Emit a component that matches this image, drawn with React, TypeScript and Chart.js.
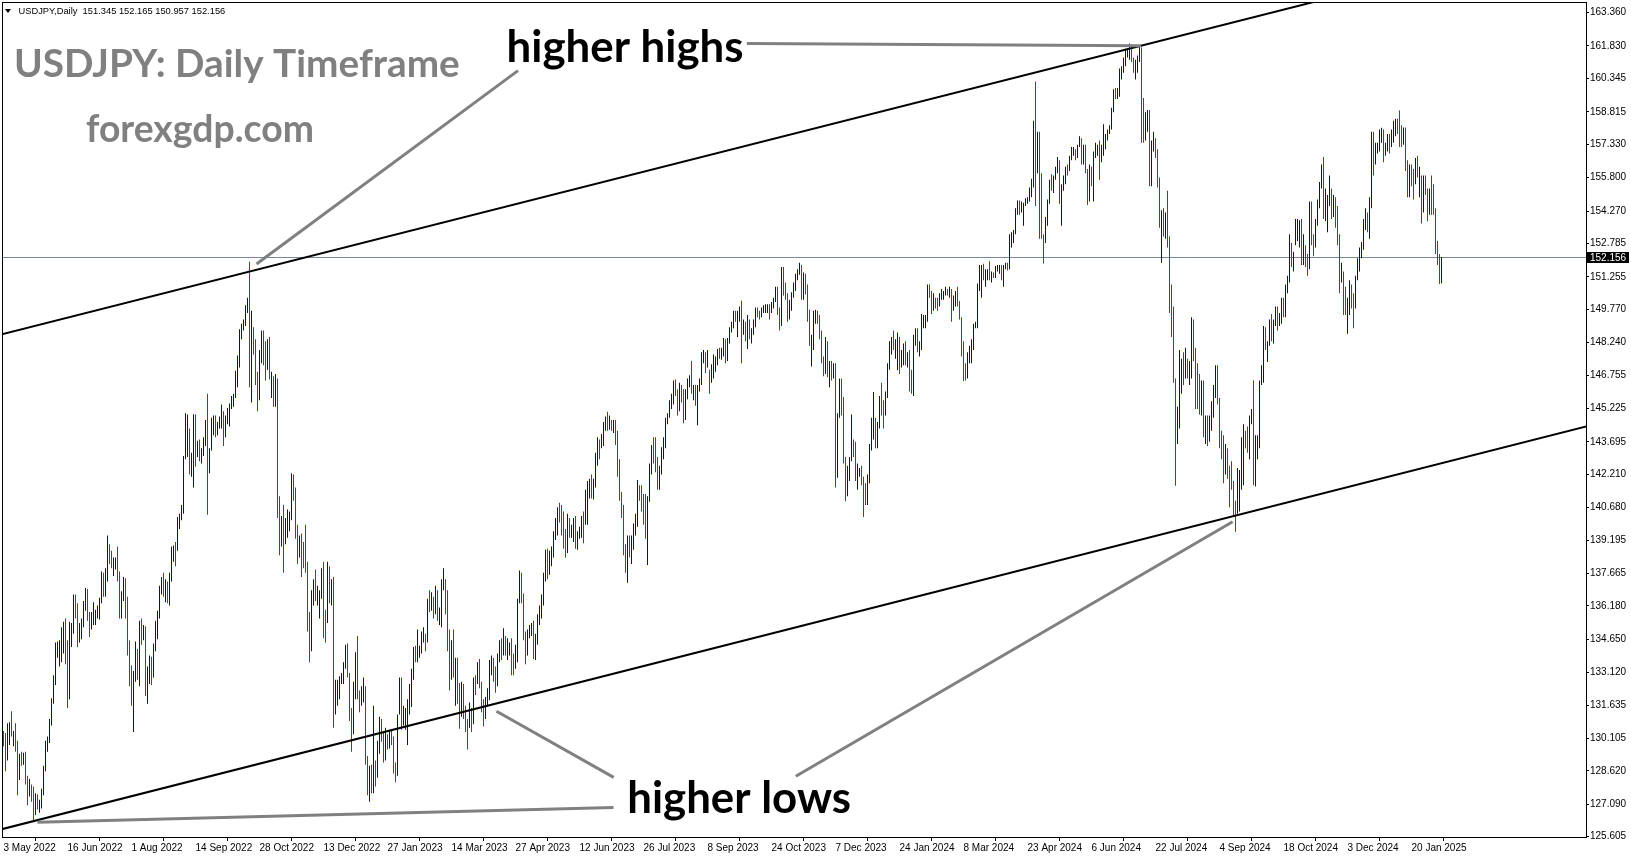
import React, { useEffect, useRef } from 'react';
import { Chart, registerables } from 'chart.js';

Chart.register(...registerables);

// ---------------- time axis ----------------
const DATE_LABELS = [
  '3 May 2022', '16 Jun 2022', '1 Aug 2022', '14 Sep 2022', '28 Oct 2022', '13 Dec 2022',
  '27 Jan 2023', '14 Mar 2023', '27 Apr 2023', '12 Jun 2023', '26 Jul 2023', '8 Sep 2023',
  '24 Oct 2023', '7 Dec 2023', '24 Jan 2024', '8 Mar 2024', '23 Apr 2024', '6 Jun 2024',
  '22 Jul 2024', '4 Sep 2024', '18 Oct 2024', '3 Dec 2024', '20 Jan 2025',
];
const BARS_PER_LABEL = 32;

// ---------------- price axis ----------------
const PRICE_TICKS = [
  163.36, 161.83, 160.345, 158.815, 157.33, 155.8, 154.27, 152.785, 151.255, 149.77,
  148.24, 146.755, 145.225, 143.695, 142.21, 140.68, 139.195, 137.665, 136.18, 134.65,
  133.12, 131.635, 130.105, 128.62, 127.09, 125.605,
];

// ---------------- daily bars (one row = 32 bars between two date labels) ----------------
const PREV_CLOSE = 130.15;
const HIGH = [
  130.45,130.35,130.8,130.85,131.35,130.45,130.8,130.0,129.4,129.5,129.45,129.5,128.4,128.25,128.0,127.9,127.6,127.55,127.3,127.8,128.85,130.0,130.2,131.0,131.95,133.0,134.5,134.55,134.6,135.2,135.45,135.6,
  134.6,135.45,135.4,136.7,136.7,136.3,135.4,135.6,136.4,137.0,136.95,135.9,135.9,136.35,136.0,136.2,136.55,137.75,137.7,137.9,139.4,139.0,138.7,138.4,138.4,138.9,137.75,136.85,137.5,137.45,136.6,134.6,
  133.45,133.2,134.55,134.2,135.5,135.6,135.3,135.25,133.4,133.9,133.85,134.45,135.5,135.95,137.1,137.5,137.7,137.4,137.3,137.7,138.9,138.95,139.1,140.25,140.4,140.8,143.05,145.0,144.95,144.3,143.2,144.96,
  144.95,143.75,143.8,143.4,143.9,144.7,145.9,143.4,144.8,144.9,144.9,144.6,144.85,145.4,145.1,144.9,145.25,145.45,145.8,145.9,146.95,147.65,148.85,149.1,149.3,149.95,150.3,151.94,149.7,148.95,148.4,146.9,
  147.9,148.8,148.8,148.3,148.4,148.5,146.9,146.7,146.8,146.6,141.2,140.3,140.8,140.2,140.6,140.5,142.25,142.2,141.6,139.9,139.4,139.5,139.1,139.9,138.2,135.9,136.9,137.4,137.85,137.1,136.9,137.9,
  138.2,136.0,138.2,138.0,137.4,137.5,132.8,132.8,132.95,133.1,133.6,134.4,134.45,133.1,131.5,132.7,134.05,134.8,132.3,132.5,132.9,132.5,129.3,128.85,128.9,131.6,129.1,130.0,131.1,131.0,130.4,130.6,
  130.3,130.5,130.5,130.2,129.0,131.2,132.9,132.9,131.6,131.5,131.9,132.6,133.3,134.3,134.35,135.1,134.35,135.0,135.2,134.9,136.5,136.9,136.8,136.6,137.1,136.9,136.1,137.4,137.9,137.4,136.9,135.1,
  134.6,135.1,133.8,133.8,132.65,132.7,132.6,131.6,131.0,131.75,131.5,132.9,133.0,133.6,133.75,132.7,131.9,132.0,132.4,133.7,133.9,133.8,133.4,134.0,134.6,134.7,135.15,134.8,134.7,134.5,134.7,134.0,
  134.4,136.5,137.8,137.7,136.75,135.0,135.1,135.3,135.4,135.5,134.9,135.8,136.2,136.7,137.7,138.75,138.8,138.7,138.9,139.6,140.2,140.7,140.9,140.8,140.5,139.7,140.4,140.2,139.9,140.2,140.3,139.6,
  139.8,140.3,140.5,141.5,141.9,142.0,142.2,142.0,143.2,143.9,143.8,144.05,144.6,144.85,145.07,144.9,144.7,144.7,144.7,144.2,142.9,141.4,140.8,139.0,139.4,139.4,139.4,139.95,140.4,141.95,141.7,141.7,
  141.3,141.3,141.2,142.7,143.55,143.9,143.9,143.0,142.6,143.45,143.9,144.8,145.0,145.6,145.9,146.5,146.55,146.1,146.4,146.3,146.1,146.1,146.6,146.75,147.4,146.3,146.3,146.3,146.6,147.8,147.9,147.8,
  147.9,147.0,147.25,147.7,147.6,147.95,148.0,148.0,148.45,148.4,148.45,148.95,149.2,149.7,149.7,149.7,149.9,150.16,149.3,149.2,149.5,149.3,148.9,149.3,149.85,149.85,149.7,149.85,149.95,150.0,150.0,150.0,
  150.1,150.3,150.8,150.8,149.85,151.7,151.7,151.0,150.5,150.2,150.55,151.0,151.4,151.6,151.9,151.8,151.45,151.4,150.9,149.75,148.6,149.7,149.75,149.7,149.5,148.8,147.6,148.5,148.3,147.4,147.4,147.3,
  147.3,145.0,146.6,146.6,145.75,143.0,142.6,143.0,144.95,143.8,143.7,142.7,142.5,142.6,142.1,141.8,142.2,143.6,144.8,145.98,144.8,144.6,145.8,146.4,145.6,146.0,147.3,148.3,148.5,148.8,148.4,148.7,
  148.5,147.9,148.2,148.3,147.8,147.9,147.0,148.6,148.9,148.9,148.3,149.55,149.5,149.5,150.9,150.9,150.6,150.5,150.3,150.3,150.5,150.7,150.6,150.8,150.7,150.8,150.7,150.4,150.6,150.8,150.15,149.4,
  148.3,147.3,147.8,148.1,148.4,149.1,149.2,150.95,151.8,151.8,151.85,151.6,151.6,151.97,151.5,151.45,151.75,151.8,151.8,151.8,151.8,151.9,151.9,153.2,153.3,153.4,154.4,154.75,154.75,154.7,154.65,154.85,
  154.9,155.35,155.75,158.4,160.2,157.9,157.9,156.0,153.2,154.0,154.8,155.7,155.95,155.9,156.3,156.75,156.6,155.5,155.9,156.3,156.4,156.8,157.2,157.2,157.1,157.3,157.7,157.6,157.3,157.3,156.2,156.4,
  156.3,157.0,157.4,157.3,157.5,157.3,158.25,157.8,158.0,158.2,159.0,159.85,159.9,159.9,160.8,160.9,161.3,161.7,161.7,161.95,161.8,161.3,161.2,161.4,161.8,161.76,159.45,158.8,158.9,158.9,157.5,157.9,
  157.6,157.1,155.8,154.3,154.4,154.2,155.2,153.1,150.9,149.9,146.6,145.3,147.9,147.5,147.8,148.0,147.5,147.4,149.4,149.3,148.0,147.3,146.8,146.5,146.5,144.9,144.9,144.9,145.55,146.3,147.2,147.2,
  145.7,144.2,144.0,143.6,143.4,142.6,142.8,141.9,141.0,142.5,142.4,143.9,144.5,144.2,144.4,144.9,145.2,146.5,144.0,144.0,146.5,147.2,149.0,148.95,148.3,149.3,149.55,149.3,149.9,149.9,149.6,150.3,
  150.3,150.9,151.3,153.2,152.8,152.4,153.9,153.9,153.85,153.9,153.2,152.7,152.3,154.7,154.7,153.2,153.9,154.8,155.6,156.4,156.75,155.3,155.0,155.9,155.3,155.0,154.9,154.5,153.2,151.9,151.5,150.8,
  150.3,151.1,150.9,150.5,151.3,152.1,152.6,152.85,153.9,154.4,154.2,154.9,157.9,157.9,157.4,157.4,158.0,158.08,158.0,157.4,157.8,157.8,158.0,158.4,158.5,158.5,158.87,158.2,158.1,158.1,156.6,156.4,
  156.4,156.2,156.7,156.8,156.3,155.9,155.9,155.9,155.3,155.3,155.9,155.5,154.4,152.9,152.3,152.165,
];
const LOW = [
  129.75,128.6,129.1,129.8,130.2,129.75,129.5,127.5,128.2,128.85,128.9,128.0,127.05,127.45,127.2,126.36,126.6,126.85,126.7,126.9,127.5,128.6,129.5,129.9,130.7,131.7,132.55,133.8,133.4,133.6,134.0,133.5,
  131.5,131.9,134.3,134.9,135.6,134.3,134.5,134.65,135.2,135.95,135.5,134.75,135.1,135.3,135.3,135.6,135.55,136.3,136.6,136.6,137.3,138.1,137.9,137.55,137.85,137.3,135.6,135.6,136.4,135.6,133.9,132.5,
  131.6,130.4,132.7,132.8,132.5,134.4,134.6,132.05,131.7,132.6,132.55,132.9,134.1,134.65,135.6,136.7,136.6,136.35,136.3,136.2,137.3,138.2,138.0,138.7,139.7,140.1,140.4,142.9,143.0,142.2,142.1,141.6,
  142.55,143.0,142.8,142.7,143.05,143.5,140.35,142.25,143.3,144.0,143.9,144.0,144.3,144.3,143.5,143.9,144.5,144.4,145.2,145.3,145.7,146.2,147.1,148.4,148.8,149.0,149.6,146.2,145.5,147.7,146.3,145.1,
  145.6,147.3,147.2,146.5,147.0,146.55,145.7,145.3,145.3,140.2,138.5,138.9,137.7,139.0,139.3,139.6,140.1,141.0,139.25,138.1,138.4,137.5,137.9,137.7,135.0,133.6,134.1,136.2,136.4,136.2,135.6,136.5,
  134.7,134.5,135.4,136.3,136.2,130.6,131.2,131.6,131.9,132.6,132.6,133.3,132.9,130.9,129.5,130.3,131.9,131.9,131.3,131.6,131.75,128.9,127.5,127.2,127.6,127.6,127.9,128.3,129.4,129.95,129.0,129.1,
  129.6,129.65,129.8,128.5,128.1,128.4,131.2,130.5,130.7,130.5,129.8,131.2,131.55,132.8,133.6,133.6,133.8,134.0,134.5,134.1,134.5,135.9,135.95,135.6,135.8,135.5,135.3,135.2,136.9,135.8,134.1,132.3,
  132.8,132.9,131.6,131.7,130.55,131.1,131.0,130.4,129.6,130.6,130.4,130.75,132.1,132.6,132.4,131.3,130.65,131.0,131.6,131.85,133.0,132.7,132.2,132.5,133.6,133.7,133.9,133.9,133.7,133.9,133.0,133.0,
  133.3,133.6,136.3,136.3,134.6,133.5,133.9,134.7,134.8,133.75,133.7,134.4,135.3,135.6,136.2,137.3,137.4,137.6,138.0,138.4,139.2,139.4,140.0,139.4,138.8,138.4,138.6,139.3,139.3,139.1,138.8,138.75,
  139.25,139.3,139.05,139.9,139.9,141.1,141.1,141.05,141.6,142.6,142.9,143.4,143.5,144.2,144.2,144.25,144.2,144.1,143.55,142.1,141.0,140.2,138.5,137.7,137.24,138.4,138.1,138.75,139.4,139.8,141.0,140.5,
  139.9,139.25,138.05,140.95,142.2,142.7,142.3,141.5,141.5,142.2,142.9,143.4,144.5,144.8,145.2,145.4,145.8,144.9,145.1,145.5,144.55,144.7,145.65,146.2,145.9,145.6,145.35,144.45,146.0,146.3,147.3,146.85,
  147.1,145.9,146.4,146.6,146.9,147.2,147.5,147.45,147.6,147.3,147.4,148.2,148.7,148.9,149.2,148.5,149.2,147.3,148.6,148.3,147.95,148.4,148.2,148.6,148.95,149.4,149.3,149.4,149.6,149.6,149.6,149.3,
  149.6,149.8,150.1,149.5,148.8,149.0,150.4,150.2,149.2,149.3,149.7,150.3,150.6,151.1,151.35,150.2,150.2,150.45,149.2,148.1,147.15,147.9,149.1,149.1,148.4,147.3,146.7,146.8,146.65,146.2,146.5,146.6,
  141.6,142.05,144.8,144.9,142.7,140.97,141.2,141.9,142.8,143.0,141.9,141.5,142.1,141.7,140.25,140.8,140.8,141.8,143.3,143.8,143.4,143.4,144.3,144.9,144.3,144.9,145.7,147.0,147.7,147.9,147.5,146.98,
  146.8,147.1,147.2,147.2,147.1,146.0,145.9,145.8,148.1,147.8,147.6,147.9,148.9,148.9,149.2,150.3,149.55,149.7,149.8,149.7,149.9,150.2,150.2,150.4,150.4,150.3,149.2,149.7,149.9,149.9,149.3,147.6,
  146.48,146.5,146.6,147.3,147.3,147.9,148.9,148.9,150.6,150.3,151.1,150.8,151.1,151.1,151.0,151.2,151.2,151.5,151.4,151.1,150.8,151.6,151.55,151.6,152.6,152.8,153.2,154.1,154.1,154.2,153.6,154.5,
  154.6,154.7,154.9,155.35,154.5,156.0,153.0,153.0,151.86,152.8,153.6,154.6,155.2,155.1,155.7,156.0,154.6,153.6,155.2,155.5,155.9,156.1,156.6,156.8,156.6,156.7,157.2,156.4,156.4,156.0,154.55,154.7,
  155.4,154.7,156.7,156.8,155.7,156.5,156.8,157.1,157.5,157.8,158.0,158.8,159.4,159.4,159.5,160.3,160.6,160.9,161.3,161.2,161.1,160.6,160.3,160.6,161.1,157.4,157.4,157.5,157.9,155.4,155.4,157.0,
  156.7,155.35,153.5,151.9,153.1,153.0,152.6,149.6,148.5,146.4,141.68,143.6,144.3,145.9,146.3,146.6,146.6,146.3,146.6,147.4,145.2,145.2,144.95,144.9,143.9,143.6,143.5,143.7,144.2,144.8,145.7,145.4,
  143.4,142.9,141.8,142.2,142.0,140.7,141.5,140.3,139.58,140.4,140.5,141.5,141.7,143.4,143.2,142.9,144.5,141.7,141.65,142.9,143.4,146.3,146.4,147.9,147.35,148.1,148.3,148.2,149.0,148.8,149.0,149.1,
  149.4,149.4,150.5,151.0,151.7,151.5,152.7,152.9,152.6,151.8,151.8,151.7,151.3,151.6,152.7,152.2,152.6,153.6,154.4,155.3,153.9,153.8,153.3,154.5,153.9,154.0,153.5,152.7,150.5,151.0,149.5,149.5,
  148.65,149.5,149.8,148.9,149.8,151.1,151.5,152.1,152.5,153.4,153.3,153.0,154.4,155.9,156.4,156.9,157.0,157.4,156.5,156.8,157.0,156.9,157.2,157.4,157.7,157.8,157.2,157.2,157.3,156.1,154.9,154.9,
  155.4,154.8,155.5,155.8,154.9,153.7,154.2,155.0,153.8,154.1,154.1,154.1,152.3,151.8,150.93,150.957,
];
const CLOSE = [
  130.1,129.1,130.2,130.55,130.3,130.4,129.95,128.3,129.2,129.15,129.35,128.2,127.8,127.9,127.8,126.85,127.3,127.1,127.1,127.6,128.7,129.85,129.9,130.85,131.9,132.6,134.2,134.35,134.4,134.4,135.4,133.9,
  132.2,134.95,135.05,136.65,136.2,134.95,135.2,135.45,136.1,136.6,135.7,135.2,135.7,135.9,135.9,136.0,136.1,137.4,136.8,137.4,138.9,138.5,138.2,138.2,138.2,137.4,136.1,136.7,136.9,136.6,134.2,133.3,
  131.6,133.2,133.85,133.0,135.0,134.95,135.1,132.9,133.0,133.5,133.3,134.2,135.0,135.9,137.0,137.5,136.8,137.1,136.5,137.2,138.75,138.75,138.7,139.7,140.2,140.5,142.8,144.0,144.1,142.6,142.8,144.6,
  143.2,143.5,142.9,143.2,143.7,144.1,142.4,143.3,144.7,144.8,144.1,144.5,144.7,144.8,144.1,144.6,145.1,145.3,145.7,145.8,146.9,147.2,148.7,149.0,149.2,149.9,150.2,147.6,148.9,148.0,146.4,146.3,
  147.5,148.7,148.2,147.9,148.2,146.6,146.6,145.6,146.4,140.9,138.8,139.9,139.3,139.5,140.2,140.4,142.1,141.2,139.6,138.6,139.2,138.9,138.7,138.1,135.3,134.3,136.7,137.1,136.6,136.6,136.6,137.7,
  135.6,135.5,137.8,136.7,136.9,131.7,132.4,132.4,132.9,132.9,133.5,134.4,133.0,131.1,130.9,132.2,133.4,132.1,131.9,132.3,132.4,129.2,127.9,128.5,128.1,128.9,128.4,129.6,130.7,130.1,129.2,130.2,
  129.9,130.4,130.1,128.9,128.6,131.2,132.6,131.1,131.4,131.4,131.4,132.4,133.1,134.1,133.9,134.1,134.2,134.9,134.9,134.7,136.4,136.2,136.2,136.1,136.8,135.8,135.9,137.2,137.3,136.1,134.9,133.2,
  134.2,133.4,133.7,131.9,131.3,132.5,131.5,130.8,130.7,131.5,130.9,132.9,132.7,132.8,132.4,131.7,131.3,131.8,132.2,133.6,133.7,133.1,132.6,133.8,134.5,134.1,134.7,134.2,134.2,134.3,133.7,133.6,
  133.9,136.3,137.5,136.5,134.6,134.3,134.8,135.1,135.2,134.3,134.5,135.7,136.1,136.4,137.6,138.7,137.9,138.6,138.6,139.5,140.0,140.6,140.4,139.8,139.3,138.8,140.0,139.6,139.6,140.1,139.0,139.4,
  139.5,140.2,140.0,140.3,141.8,141.9,141.4,141.9,143.1,143.7,143.5,143.6,144.4,144.8,144.3,144.7,144.5,144.7,144.1,142.1,141.3,140.4,138.5,138.1,138.8,138.7,139.0,139.7,140.1,141.8,141.5,140.9,
  140.2,139.4,141.2,142.3,143.4,143.3,142.6,141.8,142.5,143.3,143.8,144.7,144.9,145.6,145.6,146.4,145.8,145.4,146.2,145.9,144.8,146.1,146.4,146.5,145.9,146.2,145.5,146.2,146.5,147.7,147.7,147.3,
  147.8,146.6,147.1,147.5,147.5,147.9,147.6,147.9,148.4,147.6,148.4,148.9,149.1,149.6,149.3,149.4,149.9,149.0,149.1,148.5,149.3,148.5,148.7,149.1,149.8,149.6,149.5,149.8,149.8,149.8,149.9,149.7,
  149.9,150.2,150.4,149.6,149.1,151.7,150.9,150.4,149.4,150.0,150.4,150.9,151.3,151.5,151.7,150.4,151.3,150.7,149.6,148.3,148.4,149.5,149.5,149.4,148.7,147.5,147.2,148.2,146.8,147.2,147.1,147.2,
  144.1,144.9,146.2,145.4,142.9,141.9,142.2,142.8,143.8,143.6,142.1,142.4,142.4,142.2,141.4,141.0,142.0,143.3,144.6,144.6,144.2,144.5,145.7,145.3,144.9,145.8,147.2,148.1,148.2,148.1,148.1,148.4,
  147.5,147.6,148.1,147.5,147.6,146.9,146.4,148.4,148.7,147.9,148.1,149.3,149.3,149.4,150.8,150.6,149.9,150.2,150.1,150.0,150.3,150.5,150.5,150.7,150.5,150.6,149.9,150.1,150.5,150.0,149.4,148.0,
  147.1,146.9,147.7,147.8,148.3,149.0,149.1,150.9,151.3,151.6,151.4,151.4,151.5,151.3,151.35,151.3,151.6,151.6,151.6,151.3,151.6,151.9,151.8,153.2,153.3,153.3,154.2,154.7,154.4,154.6,154.6,154.8,
  154.8,155.3,155.6,158.3,156.4,157.8,153.6,153.0,152.9,153.9,154.7,155.6,155.5,155.8,156.2,156.4,154.9,155.4,155.6,156.3,156.2,156.8,157.0,157.0,156.8,157.1,157.6,156.8,157.3,156.1,154.8,156.1,
  155.6,156.8,157.0,157.2,156.7,157.0,157.4,157.7,157.9,158.1,158.9,159.8,159.7,159.7,160.8,160.8,160.9,161.5,161.5,161.7,161.2,160.8,160.8,161.3,161.6,158.9,157.9,158.0,158.4,156.2,157.4,157.5,
  157.0,155.6,153.9,154.0,153.8,154.0,152.8,150.0,149.4,146.5,144.2,144.3,146.8,147.3,146.6,147.2,146.8,147.3,149.3,147.6,146.6,145.3,145.2,146.3,144.4,144.5,143.9,144.6,145.0,146.2,147.0,145.5,
  143.7,143.4,142.3,143.1,142.5,142.4,141.8,140.8,140.6,142.3,142.3,142.6,143.9,143.6,143.2,144.8,144.8,142.2,143.6,143.6,146.4,146.9,148.7,148.2,148.2,149.3,148.6,149.1,149.7,149.2,149.2,150.1,
  149.5,150.8,151.1,152.7,151.8,152.3,153.3,153.4,153.4,152.0,152.9,152.1,151.6,154.6,152.9,152.6,153.7,154.6,155.5,156.3,154.3,154.6,154.6,155.4,154.5,154.8,154.2,153.1,151.1,151.6,149.8,149.6,
  149.6,150.6,150.1,150.0,151.2,151.9,152.5,152.6,153.7,154.1,153.5,154.7,157.4,156.4,157.2,157.2,157.8,157.9,156.9,157.2,157.5,157.3,157.6,158.0,158.3,158.0,157.7,157.5,158.0,156.5,155.2,156.3,
  155.6,155.5,156.5,156.0,156.0,154.5,155.5,155.2,154.3,155.2,154.6,154.3,152.6,152.0,151.4,152.156,
];
const LAST_BAR = { open: 151.345, high: 152.165, low: 150.957, close: 152.156 };

// ---------------- drawn objects (bar index, price) ----------------
const UPPER_CHANNEL = [[-1, 148.616], [800, 167.21]];
const LOWER_CHANNEL = [[-1, 125.946], [800, 144.6]];
const POINTER_LINES = [
  [[371.7, 161.94], [568.75, 161.84]],
  [[257.25, 160.7], [126.5, 151.84]],
  [[246.5, 131.35], [305.1, 128.32]],
  [[396.15, 128.37], [614.55, 140.03]],
  [[17, 126.27], [305, 126.94]],
];
const HIGHS_TEXT = { text: 'higher highs', at: [251.55, 161.085] };
const LOWS_TEXT = { text: 'higher lows', at: [311.85, 126.7] };
const TITLE_TEXT = 'USDJPY: Daily Timeframe';
const SITE_TEXT = 'forexgdp.com';

const UP_COLOR = '#0000c0';
const DOWN_COLOR = '#e60000';
const BID_COLOR = '#778899';
const GRAY = '#808080';

const X_MIN = -0.25;
const X_MAX = 791.25;
const Y_MIN = 125.59;
const Y_MAX = 163.8;

function fitSize(ctx: CanvasRenderingContext2D, text: string, font: string, width: number) {
  ctx.font = `bold 100px ${font}`;
  return (100 * width) / ctx.measureText(text).width;
}

const overlayPlugin = {
  id: 'mt4Overlay',
  beforeDatasetsDraw(chart: any) {
    const { ctx, chartArea: a, scales } = chart;
    const yb = Math.round(scales.y.getPixelForValue(LAST_BAR.close)) + 0.5;
    ctx.save();
    ctx.strokeStyle = BID_COLOR;
    ctx.lineWidth = 1;
    ctx.beginPath();
    ctx.moveTo(a.left, yb);
    ctx.lineTo(a.right, yb);
    ctx.stroke();
    ctx.restore();
  },
  afterDraw(chart: any) {
    const { ctx, chartArea: a, scales } = chart;
    const xs = scales.x;
    const ys = scales.y;
    const P = (p: number[]) => [xs.getPixelForValue(p[0]), ys.getPixelForValue(p[1])];
    const seg = (l: number[][]) => {
      const p0 = P(l[0]);
      const p1 = P(l[1]);
      ctx.beginPath();
      ctx.moveTo(p0[0], p0[1]);
      ctx.lineTo(p1[0], p1[1]);
      ctx.stroke();
    };

    ctx.save();
    ctx.beginPath();
    ctx.rect(a.left, a.top, a.right - a.left, a.bottom - a.top);
    ctx.clip();

    ctx.strokeStyle = '#000';
    ctx.lineWidth = 2;
    seg(UPPER_CHANNEL);
    seg(LOWER_CHANNEL);

    ctx.strokeStyle = GRAY;
    ctx.lineWidth = 3;
    POINTER_LINES.forEach(seg);

    ctx.textBaseline = 'alphabetic';
    ctx.textAlign = 'left';
    const hhSize = fitSize(ctx, HIGHS_TEXT.text, 'Lato', 237);
    ctx.font = `bold ${hhSize}px Lato`;
    ctx.fillStyle = '#000';
    let p = P(HIGHS_TEXT.at);
    ctx.fillText(HIGHS_TEXT.text, p[0], p[1]);
    p = P(LOWS_TEXT.at);
    ctx.fillText(LOWS_TEXT.text, p[0], p[1]);

    ctx.fillStyle = GRAY;
    const tSize = fitSize(ctx, TITLE_TEXT, 'Lato', 446);
    ctx.font = `bold ${tSize}px Lato`;
    ctx.fillText(TITLE_TEXT, a.left + 11, a.top + 74.3);
    const sSize = fitSize(ctx, SITE_TEXT, 'Lato', 228);
    ctx.font = `bold ${sSize}px Lato`;
    ctx.fillText(SITE_TEXT, a.left + 83, a.top + 138.7);

    // header
    ctx.fillStyle = '#000';
    ctx.beginPath();
    ctx.moveTo(a.left + 2, a.top + 6);
    ctx.lineTo(a.left + 8, a.top + 6);
    ctx.lineTo(a.left + 5, a.top + 10);
    ctx.closePath();
    ctx.fill();
    const header = `USDJPY,Daily  ${LAST_BAR.open.toFixed(3)} ${LAST_BAR.high.toFixed(3)} ${LAST_BAR.low.toFixed(3)} ${LAST_BAR.close.toFixed(3)}`;
    ctx.font = '10px "Liberation Sans"';
    const hs = (10 * 207) / ctx.measureText(header).width;
    ctx.font = `${hs}px "Liberation Sans"`;
    ctx.textBaseline = 'middle';
    ctx.fillText(header, a.left + 15.5, a.top + 8.3);
    ctx.restore();

    // frame
    ctx.save();
    ctx.strokeStyle = '#000';
    ctx.lineWidth = 1;
    ctx.strokeRect(a.left - 0.5, a.top - 0.5, a.right - a.left + 1, a.bottom - a.top + 1);

    // bid price box
    const yb = Math.round(ys.getPixelForValue(LAST_BAR.close)) + 0.5;
    ctx.fillStyle = '#000';
    ctx.fillRect(a.right, yb - 5.5, 43, 11);
    ctx.fillStyle = '#fff';
    ctx.font = '10px "Liberation Sans"';
    ctx.textBaseline = 'middle';
    ctx.textAlign = 'left';
    ctx.fillText(LAST_BAR.close.toFixed(3), a.right + 4, yb + 0.5);
    ctx.restore();
  },
};

export default function App() {
  const canvasRef = useRef<HTMLCanvasElement | null>(null);

  useEffect(() => {
    document.body.style.margin = '0';
    const canvas = canvasRef.current;
    if (!canvas) return;

    const data = HIGH.map((h, i) => ({ x: i, y: [LOW[i], h] }));
    const colors = CLOSE.map((c, i) => {
      const prev = i === 0 ? PREV_CLOSE : CLOSE[i - 1];
      return c >= prev ? UP_COLOR : DOWN_COLOR;
    });

    const tickFont = { family: '"Liberation Sans"', size: 10 };

    const chart = new Chart(canvas, {
      type: 'bar',
      data: {
        datasets: [
          {
            data: data as any,
            backgroundColor: colors,
            borderWidth: 0,
            barThickness: 1,
            inflateAmount: 0,
            grouped: false,
          } as any,
        ],
      },
      options: {
        animation: false,
        responsive: false,
        devicePixelRatio: 1,
        layout: { padding: { left: 3, top: 3, right: 0, bottom: 0 } },
        plugins: {
          legend: { display: false },
          tooltip: { enabled: false },
          title: { display: false },
        },
        scales: {
          x: {
            type: 'linear',
            min: X_MIN,
            max: X_MAX,
            offset: false,
            border: { display: false },
            grid: { drawOnChartArea: false, drawTicks: true, tickLength: 4, color: '#000', lineWidth: 1 },
            ticks: {
              autoSkip: false,
              maxRotation: 0,
              minRotation: 0,
              align: 'start',
              padding: 1,
              color: '#000',
              font: tickFont,
              callback: (v: any) => DATE_LABELS[Math.round(Number(v) / BARS_PER_LABEL)] ?? '',
            },
            afterBuildTicks: (s: any) => {
              s.ticks = DATE_LABELS.map((_, k) => ({ value: k * BARS_PER_LABEL }));
            },
            afterFit: (s: any) => {
              s.height = 24;
              s.paddingLeft = 0;
              s.paddingRight = 0;
            },
          } as any,
          y: {
            position: 'right',
            min: Y_MIN,
            max: Y_MAX,
            border: { display: false },
            grid: { drawOnChartArea: false, drawTicks: true, tickLength: 3, color: '#000', lineWidth: 1 },
            ticks: {
              padding: 1,
              color: '#000',
              font: tickFont,
              callback: (v: any) => Number(v).toFixed(3),
            },
            afterBuildTicks: (s: any) => {
              s.ticks = PRICE_TICKS.map((v) => ({ value: v }));
            },
            afterFit: (s: any) => {
              s.width = 45;
              s.paddingTop = 0;
              s.paddingBottom = 0;
            },
          } as any,
        },
      },
      plugins: [overlayPlugin],
    });

    return () => chart.destroy();
  }, []);

  return <canvas ref={canvasRef} width={1631} height={861} style={{ display: 'block' }} />;
}
